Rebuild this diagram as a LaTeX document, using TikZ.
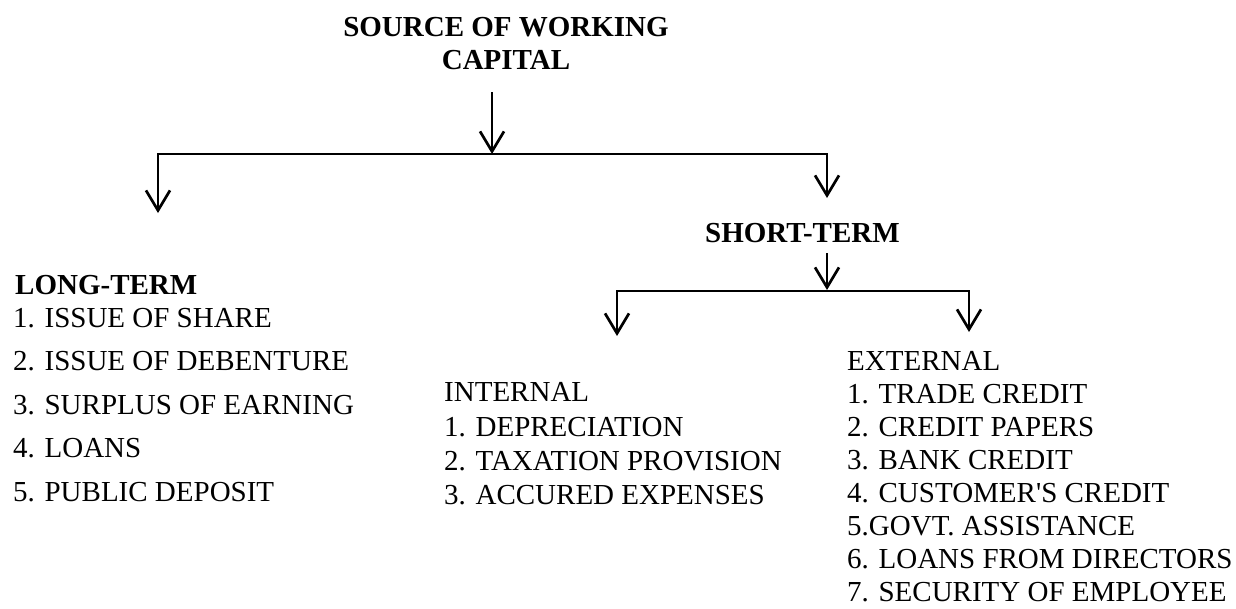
\documentclass[tikz,border=0pt]{standalone}
\usepackage{fontspec}
\setmainfont{Liberation Serif}
\usetikzlibrary{arrows.meta}
\begin{document}
\begin{tikzpicture}[x=1pt,y=-1pt,
  txt/.style={inner sep=0pt, anchor=base west, font=\fontsize{29}{34}\selectfont},
  hd/.style={txt, font=\fontsize{29}{34}\selectfont\bfseries},
  bar/.style={line width=2pt, line cap=rect},
  arr/.style={line width=2.7pt, -{Straight Barb[length=20pt,width=24pt,line width=2.7pt]}}]
\useasboundingbox (0,0) rectangle (1236,608);

% headings
\node[hd, anchor=base] (title1) at (506,36) {SOURCE OF WORKING};
\node[hd, anchor=base] (title2) at (506,69) {CAPITAL};
\node[hd] (long) at (15,294) {LONG-TERM};
\node[hd] (short) at (705,242) {SHORT-TERM};

% long-term sources
\foreach \t [count=\i, evaluate=\i as \y using 327+(\i-1)*43.5] in
  {1. ISSUE OF SHARE, 2. ISSUE OF DEBENTURE, 3. SURPLUS OF EARNING,
   4. LOANS, 5. PUBLIC DEPOSIT}
  \node[txt] (lt\i) at (13,\y) {\t};

% short-term: internal
\node[txt] (int) at (444,401) {INTERNAL};
\foreach \t [count=\i, evaluate=\i as \y using 436+(\i-1)*34] in
  {1. DEPRECIATION, 2. TAXATION PROVISION, 3. ACCURED EXPENSES}
  \node[txt] (in\i) at (444,\y) {\t};

% short-term: external
\node[txt] (ext) at (847,370) {EXTERNAL};
\foreach \t [count=\i, evaluate=\i as \y using 403+(\i-1)*33.1] in
  {1. TRADE CREDIT, 2. CREDIT PAPERS, 3. BANK CREDIT,
   4. CUSTOMER\textquotesingle S CREDIT, 5.GOVT. ASSISTANCE,
   6. LOANS FROM DIRECTORS, 7. SECURITY OF EMPLOYEE}
  \node[txt] (ex\i) at (847,\y) {\t};

% first split
\coordinate (hub) at (492,154);
\coordinate (lc) at (158,154);
\coordinate (rc) at (827,154);
\coordinate (ltip) at (158,213);
\coordinate (rtip) at (827,198);
\draw[bar] (lc) -- (rc);
\draw[arr, shorten <=23pt] (title2.south -| hub) -- (hub);
\draw[arr] ([yshift=1pt]lc) -- (ltip);
\draw[arr] ([yshift=1pt]rc) -- (rtip);

% second split
\coordinate (shub) at (827,290);
\coordinate (slc) at (617,291);
\coordinate (src) at (969,291);
\coordinate (itip) at (617,336);
\coordinate (etip) at (969,332);
\draw[bar] (slc) -- (src);
\draw[arr, shorten <=11pt] (short.base -| shub) -- (shub);
\draw[arr] ([yshift=1pt]slc) -- (itip);
\draw[arr] ([yshift=1pt]src) -- (etip);
\end{tikzpicture}
\end{document}
